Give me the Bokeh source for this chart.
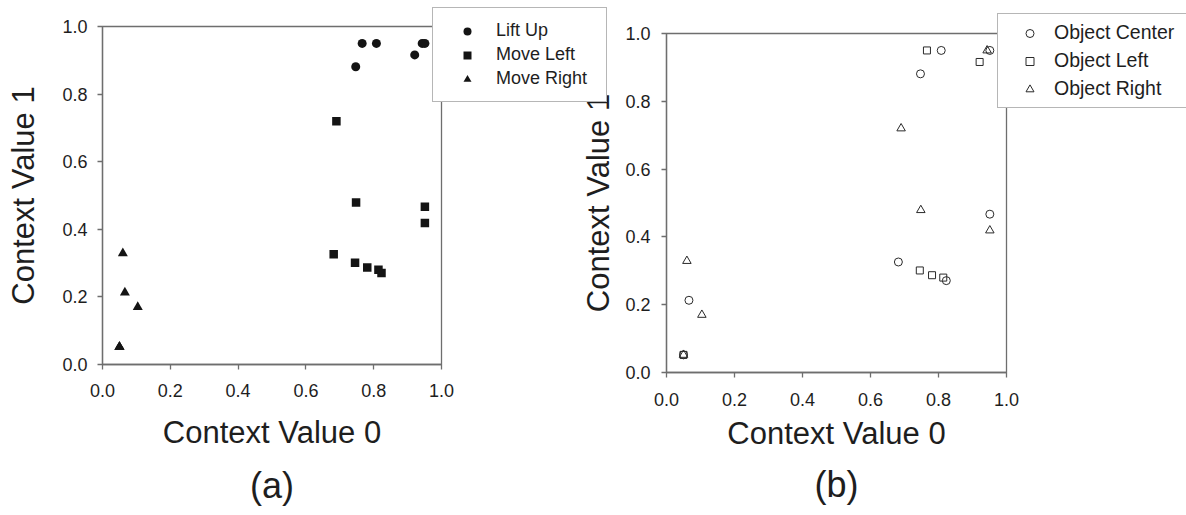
from bokeh.plotting import figure
from bokeh.models import Range1d, FixedTicker, Legend, LegendItem, Title
from bokeh.layouts import row
from bokeh.embed import file_html
from bokeh.resources import INLINE

# ---------------- data ----------------
tick_values = [0.0, 0.2, 0.4, 0.6, 0.8, 1.0]
tick_labels = ["0.0", "0.2", "0.4", "0.6", "0.8", "1.0"]
x_title = "Context Value 0"
y_title = "Context Value 1"

# panel (a): actions
lift_up_x = [0.766, 0.808, 0.747, 0.921, 0.943, 0.951]
lift_up_y = [0.950, 0.950, 0.881, 0.916, 0.950, 0.950]
move_left_x = [0.690, 0.748, 0.951, 0.951, 0.682, 0.745, 0.781, 0.814, 0.823]
move_left_y = [0.720, 0.479, 0.467, 0.419, 0.326, 0.301, 0.287, 0.280, 0.271]
move_right_x = [0.060, 0.066, 0.104, 0.050, 0.050, 0.050]
move_right_y = [0.329, 0.213, 0.170, 0.052, 0.052, 0.052]
labels_a = ["Lift Up", "Move Left", "Move Right"]

# panel (b): object positions
obj_center_x = [0.808, 0.747, 0.951, 0.682, 0.823, 0.066, 0.050, 0.951]
obj_center_y = [0.950, 0.881, 0.467, 0.326, 0.271, 0.213, 0.052, 0.950]
obj_left_x = [0.766, 0.921, 0.745, 0.781, 0.814, 0.050]
obj_left_y = [0.950, 0.916, 0.301, 0.287, 0.280, 0.052]
obj_right_x = [0.943, 0.690, 0.748, 0.951, 0.060, 0.104, 0.050]
obj_right_y = [0.950, 0.720, 0.479, 0.419, 0.329, 0.170, 0.052]
labels_b = ["Object Center", "Object Left", "Object Right"]

series_a = [(lift_up_x, lift_up_y), (move_left_x, move_left_y), (move_right_x, move_right_y)]
series_b = [(obj_center_x, obj_center_y), (obj_left_x, obj_left_y), (obj_right_x, obj_right_y)]

FONT = "Liberation Sans"
AXIS_COLOR = "#6e6e6e"
TEXT_COLOR = "#1e1e1e"
MARK = "#141414"
OPEN = "#2a2a2a"

STYLE_A = [dict(marker="circle", size=9, fill_color=MARK, line_color=None),
           dict(marker="square", size=8.5, fill_color=MARK, line_color=None),
           dict(marker="triangle", size=10, fill_color=MARK, line_color=None)]
STYLE_B = [dict(marker="circle", size=8, fill_color=None, line_color=OPEN, line_width=1),
           dict(marker="square", size=7, fill_color=None, line_color=OPEN, line_width=1),
           dict(marker="triangle", size=8.5, fill_color=None, line_color=OPEN, line_width=1)]


def make_panel(width, borders, x_standoff, y_standoff, tag, tag_standoff):
    left, right, top, bottom = borders
    p = figure(width=width, height=515, x_range=Range1d(0, 1), y_range=Range1d(0, 1),
               output_backend="svg", toolbar_location=None,
               min_border_left=left, min_border_right=right,
               min_border_top=top, min_border_bottom=bottom)
    p.frame_align = False
    p.xgrid.visible = False
    p.ygrid.visible = False
    p.outline_line_color = AXIS_COLOR
    p.outline_line_width = 1.3
    for ax, st in ((p.xaxis[0], x_standoff), (p.yaxis[0], y_standoff)):
        ax.ticker = FixedTicker(ticks=tick_values)
        ax.major_label_overrides = dict(zip(tick_values, tick_labels))
        ax.axis_line_color = AXIS_COLOR
        ax.axis_line_width = 1.3
        ax.major_tick_line_color = AXIS_COLOR
        ax.major_tick_line_width = 1.3
        ax.major_tick_out = 5
        ax.major_tick_in = 0
        ax.minor_tick_line_color = None
        ax.major_label_text_font = FONT
        ax.major_label_text_font_size = "18px"
        ax.major_label_text_color = TEXT_COLOR
        ax.axis_label_text_font = FONT
        ax.axis_label_text_font_size = "31px"
        ax.axis_label_text_font_style = "normal"
        ax.axis_label_text_color = TEXT_COLOR
        ax.axis_label_standoff = st[1]
        ax.major_label_standoff = st[0]
    p.xaxis.axis_label = x_title
    p.yaxis.axis_label = y_title
    p.add_layout(Title(text=tag, align="center", text_font=FONT, text_font_size="36px",
                       text_font_style="normal", text_color=TEXT_COLOR,
                       standoff=tag_standoff), "below")
    return p


# ---------- panel (a) ----------
pa = make_panel(620, (102, 179, 26, 149), (14, 15), (10, 18), "(a)", 20)
for (xs, ys), st in zip(series_a, STYLE_A):
    pa.scatter(xs, ys, **st)

# ---------- panel (b) ----------
pb = make_panel(626, (106, 180, 33, 143), (15, 7), (11, 6), "(b)", 16)
pb.margin = (0, 0, 0, -60)
pb.border_fill_color = None
pb.background_fill_color = None
for (xs, ys), st in zip(series_b, STYLE_B):
    pb.scatter(xs, ys, **st)

# ---------- transparent overlay carrying both legend boxes ----------
W, H = 1186, 515
pc = figure(width=W, height=H, x_range=Range1d(0, W), y_range=Range1d(0, H),
            output_backend="svg", toolbar_location=None,
            min_border_left=0, min_border_right=0, min_border_top=0, min_border_bottom=0,
            x_axis_location=None, y_axis_location=None)
pc.frame_align = False
pc.margin = (0, 0, 0, -W)
pc.grid.visible = False
pc.outline_line_color = None
pc.border_fill_color = None
pc.background_fill_color = None

# hidden copies of the series, only used to draw the legend symbols
items_a = [LegendItem(label=lab, renderers=[pc.scatter(xs, ys, visible=False, **st)])
           for lab, (xs, ys), st in zip(labels_a, series_a, STYLE_A)]
items_b = [LegendItem(label=lab, renderers=[pc.scatter(xs, ys, visible=False, **st)])
           for lab, (xs, ys), st in zip(labels_b, series_b, STYLE_B)]

leg_a = Legend(items=items_a, location=(432, H - 102), margin=0, padding=12, spacing=3,
               glyph_width=44, glyph_height=20, label_height=20, label_width=98,
               label_standoff=7, label_text_font=FONT, label_text_font_size="18px",
               label_text_color=TEXT_COLOR, border_line_color=AXIS_COLOR,
               border_line_width=1.3, background_fill_color="white", background_fill_alpha=1)
leg_b = Legend(items=items_b, location=(997, H - 108), margin=0, padding=7, spacing=5,
               glyph_width=49, glyph_height=20, label_height=20, label_width=140,
               label_standoff=0, label_text_font=FONT, label_text_font_size="19.5px",
               label_text_color=TEXT_COLOR, border_line_color=AXIS_COLOR,
               border_line_width=1.3, background_fill_color="white", background_fill_alpha=1)
pc.add_layout(leg_a, "center")
pc.add_layout(leg_b, "center")

layout = row(pa, pb, pc)
open("out.html", "w").write(file_html(layout, INLINE))
